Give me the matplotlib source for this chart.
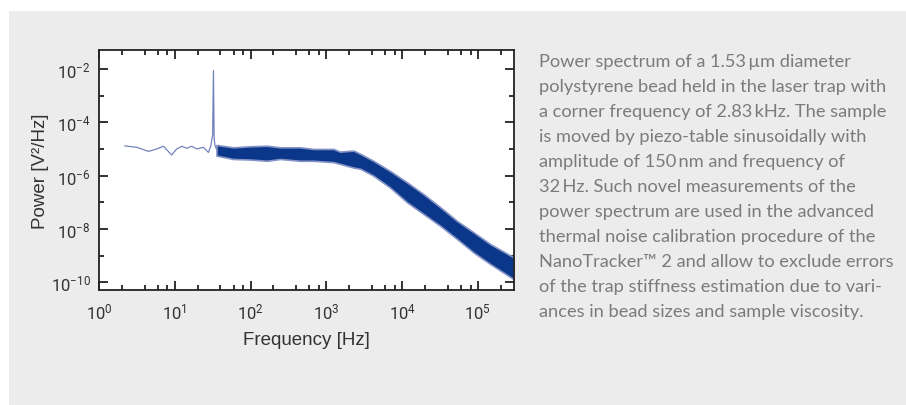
import numpy as np
import matplotlib
matplotlib.use('Agg')
import matplotlib.pyplot as plt
from matplotlib.patches import Rectangle
from matplotlib.ticker import FixedLocator, LogLocator, NullFormatter, FuncFormatter

# Thin low-frequency part of the spectrum, incl. the 32 Hz drive peak
line_freq = [2.2, 3.15, 4.5, 5.8, 7.1, 9.1, 10.6, 12.4, 14.4, 16.7, 19.5,
             23.9, 27.8, 29.9, 31.6, 32.4, 33.1, 34.0, 35.5]
line_power = [1.3e-5, 1.15e-5, 8.1e-6, 1.0e-5, 1.26e-5, 5.9e-6, 1.0e-5,
              1.26e-5, 1.05e-5, 1.26e-5, 1.0e-5, 1.15e-5, 7.4e-6, 1.3e-5,
              3.2e-5, 8.7e-3, 2.5e-5, 1.3e-5, 1.0e-5]

# Noisy part of the spectrum: upper / lower envelope of the band
band_freq = [35.5, 59, 100, 164, 245, 452, 676, 1245, 1514, 2291, 2818,
             4169, 6918, 11614, 19275, 31989, 53088, 88105, 146218, 298538]
band_upper = [1.41e-5, 1.15e-5, 1.26e-5, 1.32e-5, 1.15e-5, 1.15e-5, 1.0e-5,
              1.0e-5, 7.9e-6, 8.7e-6, 6.5e-6, 3.6e-6, 1.5e-6, 5.6e-7, 2.0e-7,
              6.5e-8, 2.0e-8, 7.4e-9, 2.7e-9, 8.5e-10]
band_lower = [5.6e-6, 4.2e-6, 4.0e-6, 3.6e-6, 4.2e-6, 3.6e-6, 3.6e-6, 3.2e-6,
              2.75e-6, 2.0e-6, 1.8e-6, 1.0e-6, 3.6e-7, 1.0e-7, 3.6e-8, 1.3e-8,
              4.2e-9, 1.3e-9, 4.8e-10, 1.3e-10]

y_major = [1e-10, 1e-8, 1e-6, 1e-4, 1e-2]
y_minor = [1e-9, 1e-7, 1e-5, 1e-3]

caption = [
    'Power spectrum of a 1.53\u2009\u00b5m diameter',
    'polystyrene bead held in the laser trap with',
    'a corner frequency of 2.83\u2009kHz. The sample',
    'is moved by piezo-table sinusoidally with',
    'amplitude of 150\u2009nm and frequency of',
    '32\u2009Hz. Such novel measurements of the',
    'power spectrum are used in the advanced',
    'thermal noise calibration procedure of the',
    'NanoTracker\u2122 2 and allow to exclude errors',
    'of the trap stiffness estimation due to vari-',
    'ances in bead sizes and sample viscosity.',
]

cap_font = ['Lato', 'DejaVu Sans']
tick_font = ['Roboto', 'DejaVu Sans']
plt.rcParams['mathtext.fontset'] = 'custom'
plt.rcParams['mathtext.rm'] = 'Roboto'
plt.rcParams['mathtext.default'] = 'regular'

W, H = 906, 406
fig = plt.figure(figsize=(W / 100, H / 100), dpi=100)
fig.patch.set_facecolor('white')

# Gray panel behind everything
fig.patches.append(Rectangle((9 / W, 0), 1, 1 - 12 / H, transform=fig.transFigure,
                             facecolor='#ebeceb', edgecolor='none', zorder=-10))

ax = fig.add_axes([99 / W, 1 - 291 / H, 415 / W, 240 / H])
ax.set_facecolor('white')

# Spectrum
ax.fill_between(band_freq, band_lower, band_upper, facecolor='#0b378a',
                edgecolor='#8593c6', linewidth=1.2, zorder=2)
ax.plot(line_freq, line_power, color='#7383bb', lw=0.9, zorder=3)

ax.set_xscale('log')
ax.set_yscale('log')
ax.set_xlim(1, 3.0e5)
ax.set_ylim(10 ** -10.29, 10 ** -1.29)

# Ticks
ax.xaxis.set_major_locator(LogLocator(base=10, numticks=10))
ax.xaxis.set_minor_locator(LogLocator(base=10, subs=(2, 4, 6, 8), numticks=10))
ax.xaxis.set_minor_formatter(NullFormatter())
ax.yaxis.set_major_locator(FixedLocator(y_major))
ax.yaxis.set_minor_locator(FixedLocator(y_minor))
ax.yaxis.set_minor_formatter(NullFormatter())
fmt = FuncFormatter(lambda v, p: '$10^{%d}$' % round(np.log10(v)))
ax.xaxis.set_major_formatter(fmt)
ax.yaxis.set_major_formatter(fmt)

ax.tick_params(which='both', direction='in', top=True, right=True,
               width=1.3, color='#222222')
ax.tick_params(which='major', length=6.5)
ax.tick_params(which='minor', length=3.5)
ax.tick_params(axis='x', which='major', pad=8, labelsize=12, labelcolor='#333333')
ax.tick_params(axis='y', which='major', pad=6, labelsize=12, labelcolor='#333333')
for lab in ax.get_xticklabels() + ax.get_yticklabels():
    lab.set_family(tick_font)
for sp in ax.spines.values():
    sp.set_linewidth(1.3)
    sp.set_color('#222222')

ax.set_xlabel('Frequency [Hz]', fontsize=13.5, color='#333333',
              family=['Liberation Sans', 'DejaVu Sans'], labelpad=7)
ax.set_ylabel('Power [V\u00b2/Hz]', fontsize=13.5, color='#333333',
              family=['Liberation Sans', 'DejaVu Sans'], labelpad=1)

# Caption on the right; size fitted so the longest line spans ~349 px
renderer = fig.canvas.get_renderer()
probe = fig.text(0, 0, caption[1], fontsize=14, family=cap_font)
size = 14 * 349 / probe.get_window_extent(renderer).width
probe.remove()
for i, line in enumerate(caption):
    fig.text(539 / W, 1 - (66.7 + 25 * i) / H, line, ha='left', va='baseline',
             fontsize=size, color='#7b7b7b', family=cap_font)

plt.savefig('out.png', dpi=100)
